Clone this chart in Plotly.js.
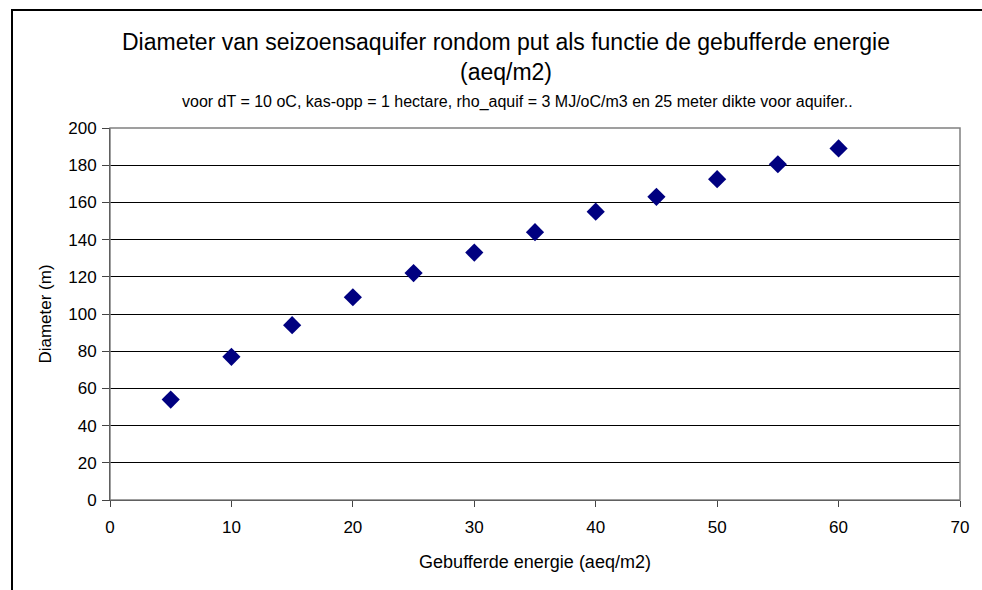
<!DOCTYPE html>
<html>
<head>
<meta charset="utf-8">
<script src="https://cdn.plot.ly/plotly-3.0.1.min.js"></script>
<style>
  html, body { margin: 0; padding: 0; background: #fff; overflow: hidden; }
  #wrap { position: relative; width: 982px; height: 590px; }
  #chart { position: absolute; left: 0; top: 0; width: 982px; height: 590px; }
  #frame { position: absolute; left: 11px; top: 9px; width: 1000px; height: 700px;
           border-left: 2px solid #000; border-top: 2px solid #000; pointer-events: none; }
</style>
</head>
<body>
<div id="wrap">
  <div id="chart"></div>
  <div id="frame"></div>
</div>
<script>
// Data
const energie = [5, 10, 15, 20, 25, 30, 35, 40, 45, 50, 55, 60];          // aeq/m2
const diameter = [54, 77, 94, 109, 122, 133, 144, 155, 163, 172.5, 180.5, 189]; // m
const xTicks = [0, 10, 20, 30, 40, 50, 60, 70];
const yTicks = [0, 20, 40, 60, 80, 100, 120, 140, 160, 180, 200];

const titleText = 'Diameter van seizoensaquifer rondom put als functie de gebufferde energie<br>(aeq/m2)';
const subtitleText = 'voor dT = 10 oC, kas-opp = 1 hectare, rho_aquif = 3 MJ/oC/m3 en 25 meter dikte voor aquifer..';
const xTitle = 'Gebufferde energie (aeq/m2)';
const yTitle = 'Diameter (m)';

const FONT = 'Liberation Sans, Arial, sans-serif';

const trace = {
  type: 'scatter',
  mode: 'markers',
  x: energie,
  y: diameter,
  marker: { symbol: 'diamond', size: 14, color: '#000080', line: { width: 0 } },
  hoverinfo: 'x+y'
};

const layout = {
  width: 982,
  height: 590,
  margin: { l: 110, r: 22, t: 128, b: 90, pad: 0 },
  paper_bgcolor: '#ffffff',
  plot_bgcolor: '#ffffff',
  font: { family: FONT, color: '#000', size: 17 },
  showlegend: false,
  title: {
    text: titleText,
    font: { family: FONT, size: 23, color: '#000' },
    xref: 'container', x: 506 / 982, xanchor: 'center',
    yref: 'container', y: 1 - 50 / 590, yanchor: 'top'
  },
  annotations: [{
    text: subtitleText,
    xref: 'paper', yref: 'paper',
    x: (517 - 110) / 850, y: (499.5 - 102) / 371.5,
    xanchor: 'center', yanchor: 'middle',
    showarrow: false,
    font: { family: FONT, size: 16, color: '#000' }
  }],
  xaxis: {
    range: [0, 70],
    tickvals: xTicks,
    ticktext: xTicks.map(String),
    showgrid: false,
    zeroline: false,
    showline: true, linecolor: '#000', linewidth: 1,
    ticks: 'outside', ticklen: 6, tickcolor: '#444', tickwidth: 1,
    ticklabelstandoff: 6,
    tickfont: { family: FONT, size: 17, color: '#000' },
    title: { text: xTitle, font: { family: FONT, size: 18, color: '#000' }, standoff: 18 },
    automargin: false,
    fixedrange: true
  },
  yaxis: {
    range: [0, 200],
    tickvals: yTicks,
    ticktext: yTicks.map(String),
    showgrid: true, gridcolor: '#000', gridwidth: 1,
    zeroline: false,
    showline: true, linecolor: '#000', linewidth: 1,
    ticks: 'outside', ticklen: 7, tickcolor: '#444', tickwidth: 1,
    ticklabelstandoff: 2,
    tickfont: { family: FONT, size: 17, color: '#000' },
    title: { text: yTitle, font: { family: FONT, size: 17, color: '#000' }, standoff: 12 },
    automargin: false,
    fixedrange: true
  },
  shapes: [{
    type: 'rect', xref: 'paper', yref: 'paper',
    x0: 0, x1: 1, y0: 0, y1: 1,
    line: { color: '#808080', width: 1.5 },
    layer: 'above'
  }]
};

Plotly.newPlot('chart', [trace], layout, { displayModeBar: false, staticPlot: true });
</script>
</body>
</html>
